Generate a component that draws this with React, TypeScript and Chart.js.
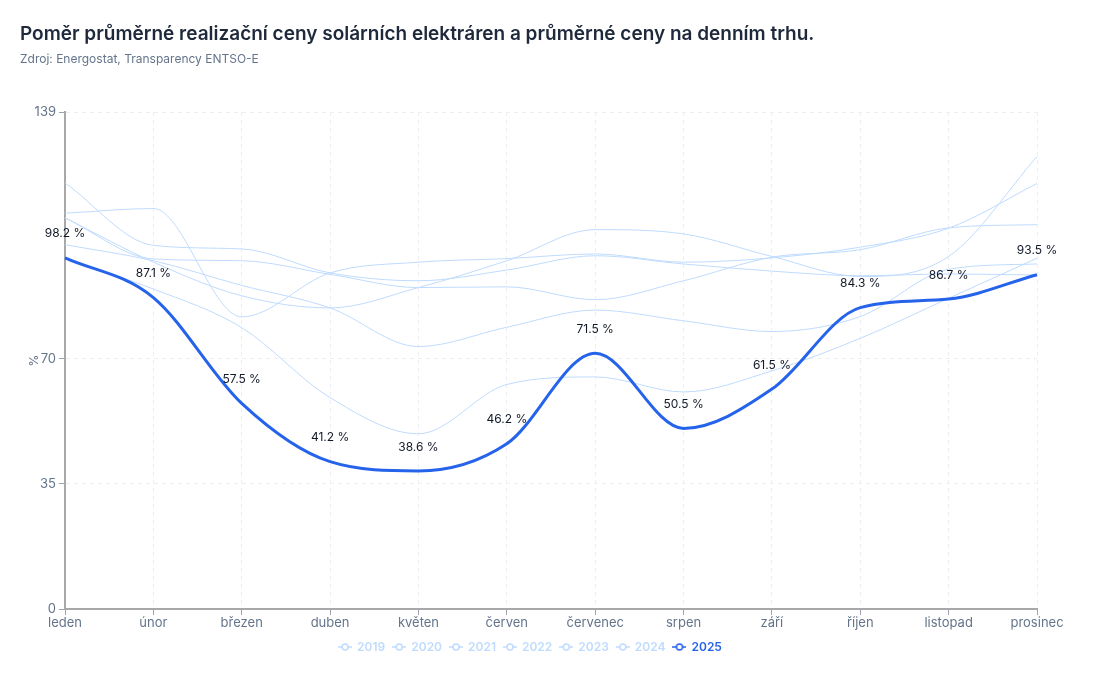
import React, { useEffect, useRef } from "react";
import { Chart, registerables } from "chart.js";

Chart.register(...registerables);

const TITLE = "Poměr průměrné realizační ceny solárních elektráren a průměrné ceny na denním trhu.";
const SUBTITLE = "Zdroj: Energostat, Transparency ENTSO-E";

const months = [
  "leden", "únor", "březen", "duben", "květen", "červen",
  "červenec", "srpen", "září", "říjen", "listopad", "prosinec",
];

const yTicks = [0, 35, 70, 139];

// ratio of solar capture price to day-ahead average price, in %
const ratio2019 = [109.4, 97.9, 97.4, 93.6, 89.9, 90.1, 86.5, 91.8, 98.4, 100.5, 106.6, 107.5];
const ratio2020 = [110.7, 112.0, 81.7, 94.0, 97.0, 98.0, 99.3, 97.0, 98.2, 101.2, 106.5, 119.0];
const ratio2021 = [109.4, 97.0, 87.6, 84.2, 89.9, 97.4, 106.1, 104.9, 98.6, 93.0, 98.6, 126.5];
const ratio2022 = [119.2, 101.7, 100.7, 94.0, 91.8, 94.8, 98.8, 96.5, 94.5, 93.2, 93.7, 93.4];
const ratio2023 = [101.9, 97.4, 90.5, 84.2, 73.4, 78.8, 83.6, 80.6, 77.6, 81.8, 95.0, 96.5];
const ratio2024 = [98.0, 89.5, 78.7, 59.1, 49.0, 62.8, 64.9, 60.7, 66.6, 75.7, 86.9, 98.1];
const ratio2025 = [98.2, 87.1, 57.5, 41.2, 38.6, 46.2, 71.5, 50.5, 61.5, 84.3, 86.7, 93.5];

const pastYears = ["2019", "2020", "2021", "2022", "2023", "2024"];
const pastSeries = [ratio2019, ratio2020, ratio2021, ratio2022, ratio2023, ratio2024];
const currentYear = "2025";

const LIGHT = "#bfdbfe";
const BLUE = "#2563eb";
const FONT = "Inter, 'Noto Sans', sans-serif";

function legendIcon(color: string): HTMLCanvasElement {
  const c = document.createElement("canvas");
  c.width = 14;
  c.height = 10;
  const ctx = c.getContext("2d")!;
  ctx.strokeStyle = color;
  ctx.lineWidth = 1.5;
  ctx.beginPath();
  ctx.moveTo(0, 5);
  ctx.lineTo(14, 5);
  ctx.stroke();
  ctx.beginPath();
  ctx.arc(7, 5, 3, 0, Math.PI * 2);
  ctx.fillStyle = "#ffffff";
  ctx.fill();
  ctx.stroke();
  return c;
}

const headerPlugin = {
  id: "header",
  afterLayout(chart: any) {
    // nudge the legend row a little to the right
    if (chart.legend) {
      chart.legend.left += 8;
      chart.legend.right += 8;
    }
  },
  afterDraw(chart: any) {
    const ctx = chart.ctx;
    ctx.save();
    ctx.textAlign = "left";
    ctx.textBaseline = "middle";
    ctx.fillStyle = "#1e293b";
    ctx.font = `600 19px ${FONT}`;
    ctx.fillText(TITLE, 12, 26);
    ctx.fillStyle = "#64748b";
    ctx.font = `400 12px ${FONT}`;
    ctx.fillText(SUBTITLE, 12, 51);
    ctx.restore();
  },
};

const valueLabelPlugin = {
  id: "valueLabels",
  afterDatasetsDraw(chart: any) {
    const idx = chart.data.datasets.findIndex((d: any) => d.label === currentYear);
    if (idx < 0) return;
    const meta = chart.getDatasetMeta(idx);
    const ctx = chart.ctx;
    ctx.save();
    ctx.font = `400 12px ${FONT}`;
    ctx.fillStyle = "#111827";
    ctx.textAlign = "center";
    ctx.textBaseline = "middle";
    meta.data.forEach((pt: any, i: number) => {
      const v = ratio2025[i];
      ctx.fillText(`${v.toFixed(1)} %`, pt.x, pt.y - 24);
    });
    ctx.restore();
  },
};

export default function App() {
  const ref = useRef<HTMLCanvasElement | null>(null);

  useEffect(() => {
    if (!ref.current) return;
    const datasets: any[] = pastYears.map((y, i) => ({
      label: y,
      data: pastSeries[i],
      borderColor: LIGHT,
      backgroundColor: LIGHT,
      borderWidth: 1,
      pointRadius: 0,
      cubicInterpolationMode: "monotone",
      order: 1,
    }));
    datasets.push({
      label: currentYear,
      data: ratio2025,
      borderColor: BLUE,
      backgroundColor: BLUE,
      borderWidth: 3,
      pointRadius: 0,
      cubicInterpolationMode: "monotone",
      order: 0,
    });

    const chart = new Chart(ref.current, {
      type: "line",
      data: { labels: months, datasets },
      plugins: [headerPlugin, valueLabelPlugin],
      options: {
        animation: false,
        responsive: true,
        maintainAspectRatio: false,
        layout: { padding: { top: 104, left: 0, right: 62, bottom: 10 } },
        plugins: {
          tooltip: { enabled: false },
          title: { display: false },
          legend: {
            position: "bottom",
            labels: {
              usePointStyle: true,
              boxWidth: 14,
              padding: 8,
              font: { family: FONT, size: 12, weight: "600" },
              generateLabels: () =>
                [...pastYears, currentYear].map((y, i) => {
                  const col = y === currentYear ? BLUE : LIGHT;
                  return {
                    text: y,
                    fillStyle: col,
                    strokeStyle: col,
                    fontColor: col,
                    pointStyle: legendIcon(col),
                    lineWidth: 0,
                    hidden: false,
                    datasetIndex: i,
                  } as any;
                }),
            },
          },
        },
        scales: {
          x: {
            type: "category",
            offset: false,
            afterFit: (scale: any) => {
              scale.height = 24;
            },
            grid: {
              color: "#eceef2",
              tickBorderDash: [],
              tickColor: "#9ca3af",
              tickLength: 6,
              tickWidth: 1,
            } as any,
            border: { display: true, color: "#a8a8a8", width: 2, dash: [4, 4] },
            ticks: {
              color: "#64748b",
              padding: 0,
              maxRotation: 0,
              autoSkip: false,
              font: { family: FONT, size: 13 },
            },
          },
          y: {
            min: 0,
            max: 139,
            afterBuildTicks: (scale: any) => {
              scale.ticks = yTicks.map((v) => ({ value: v }));
            },
            afterFit: (scale: any) => {
              scale.width = 57;
            },
            grid: {
              color: "#eceef2",
              tickBorderDash: [],
              tickColor: "#9ca3af",
              tickLength: 6,
              tickWidth: 1,
            } as any,
            border: { display: true, color: "#a8a8a8", width: 2, dash: [4, 4] },
            title: {
              display: true,
              text: "%",
              color: "#64748b",
              font: { family: FONT, size: 12 },
              padding: { top: 19, bottom: 0 },
            },
            ticks: {
              color: "#64748b",
              padding: 3,
              font: { family: FONT, size: 13 },
            },
          },
        },
      },
    });
    return () => chart.destroy();
  }, []);

  return (
    <div style={{ width: "100%", height: "665px", position: "relative" }}>
      <canvas ref={ref} />
    </div>
  );
}
